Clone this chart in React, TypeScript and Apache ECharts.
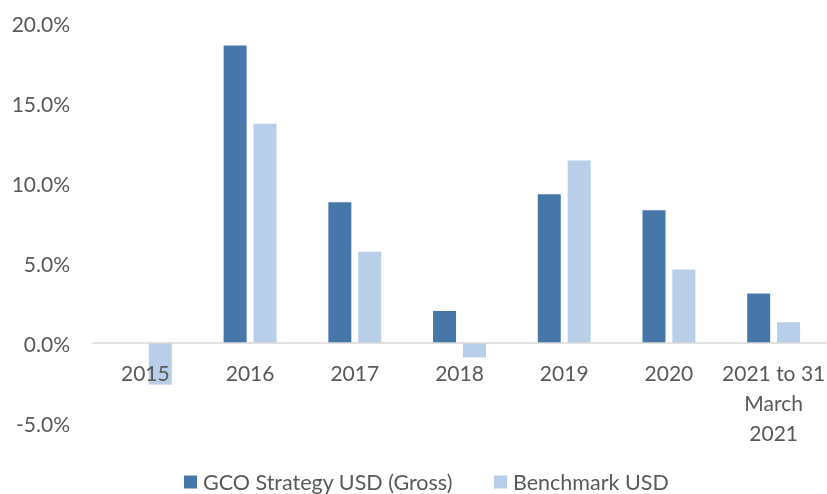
import React, { useEffect, useRef } from "react";
import * as echarts from "echarts";

const categories = ["2015", "2016", "2017", "2018", "2019", "2020", "2021 to 31\nMarch\n2021"];
const gcoValues = [0, 18.6, 8.8, 2.0, 9.3, 8.3, 3.1];
const benchmarkValues = [-2.6, 13.7, 5.7, -0.9, 11.4, 4.6, 1.3];
const seriesNames = ["GCO Strategy USD (Gross)", "Benchmark USD"];

export default function App() {
  const ref = useRef<HTMLDivElement>(null);
  useEffect(() => {
    if (!ref.current) return;
    const chart = echarts.init(ref.current, undefined, { renderer: "svg" });
    const font = "Lato, 'Open Sans', sans-serif";
    chart.setOption({
      animation: false,
      grid: {
        left: 93,
        right: 1,
        top: 23,
        bottom: 71,
        containLabel: false,
        outerBoundsMode: "none",
      },
      legend: {
        bottom: 1,
        left: 184,
        padding: 0,
        itemWidth: 13,
        itemHeight: 13,
        itemGap: 41,
        icon: "rect",
        textStyle: { color: "#595959", fontSize: 21.5, fontFamily: font, padding: [0, 0, 0, 1] },
        data: seriesNames,
      },
      xAxis: {
        type: "category",
        data: categories,
        z: 5,
        axisLine: { onZero: true, lineStyle: { color: "#d9d9d9", width: 1.5 } },
        axisTick: { show: false },
        axisLabel: {
          color: "#595959",
          fontSize: 21,
          fontFamily: font,
          lineHeight: 30,
          margin: -66,
          interval: 0,
        },
      },
      yAxis: {
        type: "value",
        min: -5,
        max: 20,
        interval: 5,
        axisLine: { show: false },
        axisTick: { show: false },
        splitLine: { show: false },
        axisLabel: {
          color: "#595959",
          fontSize: 21,
          fontFamily: font,
          margin: 23,
          formatter: (v: number) => v.toFixed(1) + "%",
        },
      },
      series: [
        {
          name: seriesNames[0],
          type: "bar",
          data: gcoValues,
          barWidth: 23,
          barGap: "30%",
          itemStyle: { color: "#4677a8" },
        },
        {
          name: seriesNames[1],
          type: "bar",
          data: benchmarkValues,
          barWidth: 23,
          barGap: "30%",
          itemStyle: { color: "#b8cee9" },
        },
      ],
    });
    return () => chart.dispose();
  }, []);
  return (
    <div
      ref={ref}
      style={{ position: "fixed", top: 0, left: 0, width: 827, height: 494 }}
    />
  );
}
